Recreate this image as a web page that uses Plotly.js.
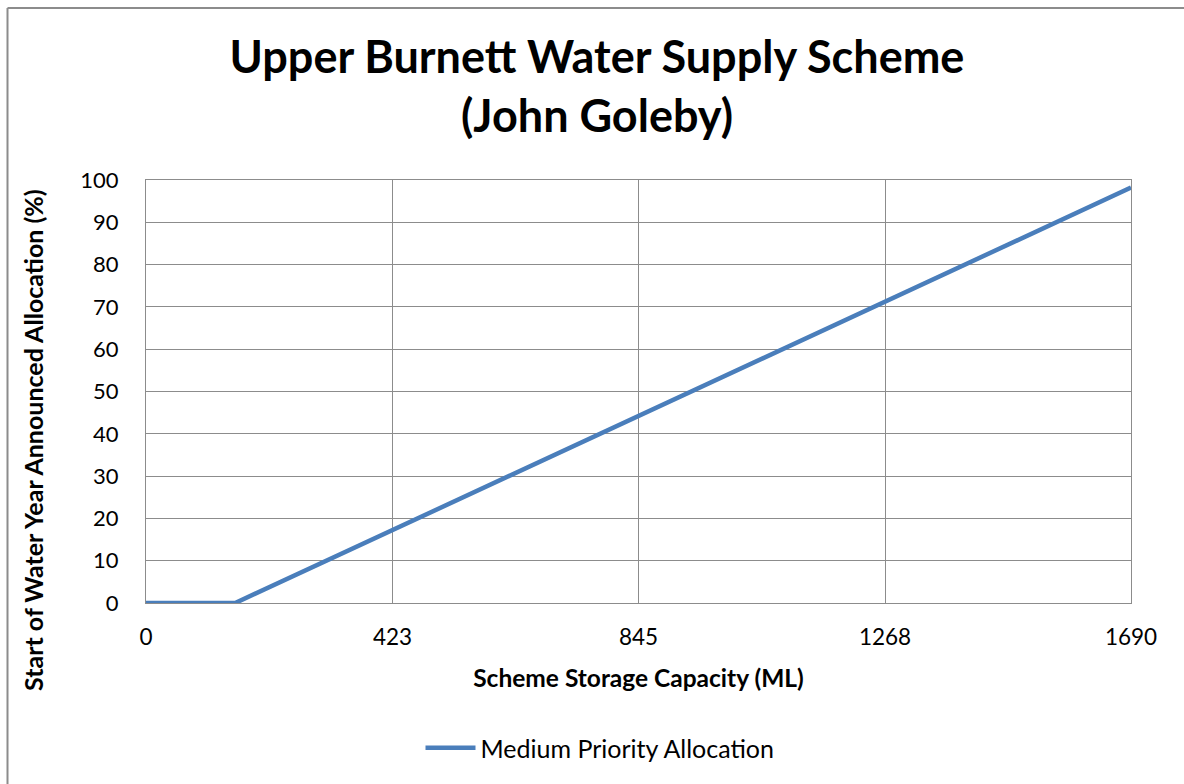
<!DOCTYPE html>
<html>
<head>
<meta charset="utf-8">
<script src="https://cdn.plot.ly/plotly-3.0.1.min.js"></script>
<style>html,body{margin:0;padding:0;background:#fff;}#chart{width:1184px;height:784px;}</style>
</head>
<body>
<div id="chart"></div>
<script>
const capacity = [0, 153, 1690];
const allocation = [0, 0, 98.2];
const xTicks = [0, 423, 845, 1268, 1690];
const xTickLabels = ['0', '423', '845', '1268', '1690'];
const seriesName = 'Medium Priority Allocation';
const yTitle = 'Start of Water Year Announced Allocation (%)';

const L = 146, R = 1131, T = 180, B = 603, W = 1184, H = 784;
const px = v => (v - L) / (R - L);
const py = v => (B - v) / (B - T);

const font = 'Lato, Calibri, "Open Sans", sans-serif';

const trace = {
  x: capacity, y: allocation, type: 'scatter', mode: 'lines',
  name: seriesName,
  line: {color: '#4a7ebb', width: 4.5}
};

const layout = {
  width: W, height: H,
  margin: {l: L, r: W - R, t: T, b: H - B, pad: 0},
  paper_bgcolor: '#fff', plot_bgcolor: '#fff',
  font: {family: font, color: '#000', size: 22},
  title: {
    text: '<b>Upper Burnett Water Supply Scheme<br>(John Goleby)</b>',
    font: {family: font, size: 45, color: '#000'},
    x: px(597), xanchor: 'center', xref: 'paper',
    y: 1 - 73 / H, yanchor: 'middle', yref: 'container'
  },
  xaxis: {
    range: [0, 1690], tickvals: xTicks, ticktext: xTickLabels,
    showgrid: true, gridcolor: '#8c8c8c', gridwidth: 1,
    showline: true, linecolor: '#8c8c8c', linewidth: 1, mirror: true,
    zeroline: false, ticks: '', ticklabelstandoff: 14,
    tickfont: {family: font, size: 22.5},
    title: {text: '<b>Scheme Storage Capacity (ML)</b>', font: {family: font, size: 24.5}, standoff: 20}
  },
  yaxis: {
    range: [0, 100], dtick: 10, tick0: 0,
    showgrid: true, gridcolor: '#8c8c8c', gridwidth: 1,
    showline: true, linecolor: '#8c8c8c', linewidth: 1, mirror: true,
    zeroline: false, ticks: '', ticklabelstandoff: 22,
    tickfont: {family: font, size: 22}
  },
  annotations: [{
    text: '<b>' + yTitle + '</b>', textangle: -90,
    xref: 'paper', yref: 'paper', x: px(33), y: py(440),
    xanchor: 'center', yanchor: 'middle', showarrow: false,
    font: {family: font, size: 25, color: '#000'}
  }],
  showlegend: true,
  legend: {
    orientation: 'h', x: px(600), xanchor: 'center', xref: 'paper',
    y: py(748), yanchor: 'middle', yref: 'paper',
    font: {family: font, size: 25}, itemwidth: 50
  },
  shapes: [
    {type: 'line', xref: 'paper', yref: 'paper', x0: px(7.5), x1: px(1200), y0: py(8), y1: py(8), line: {color: '#8c8c8c', width: 2}},
    {type: 'line', xref: 'paper', yref: 'paper', x0: px(7.5), x1: px(7.5), y0: py(8), y1: py(800), line: {color: '#8c8c8c', width: 2}}
  ]
};

Plotly.newPlot('chart', [trace], layout, {displayModeBar: false, staticPlot: true});
</script>
</body>
</html>
